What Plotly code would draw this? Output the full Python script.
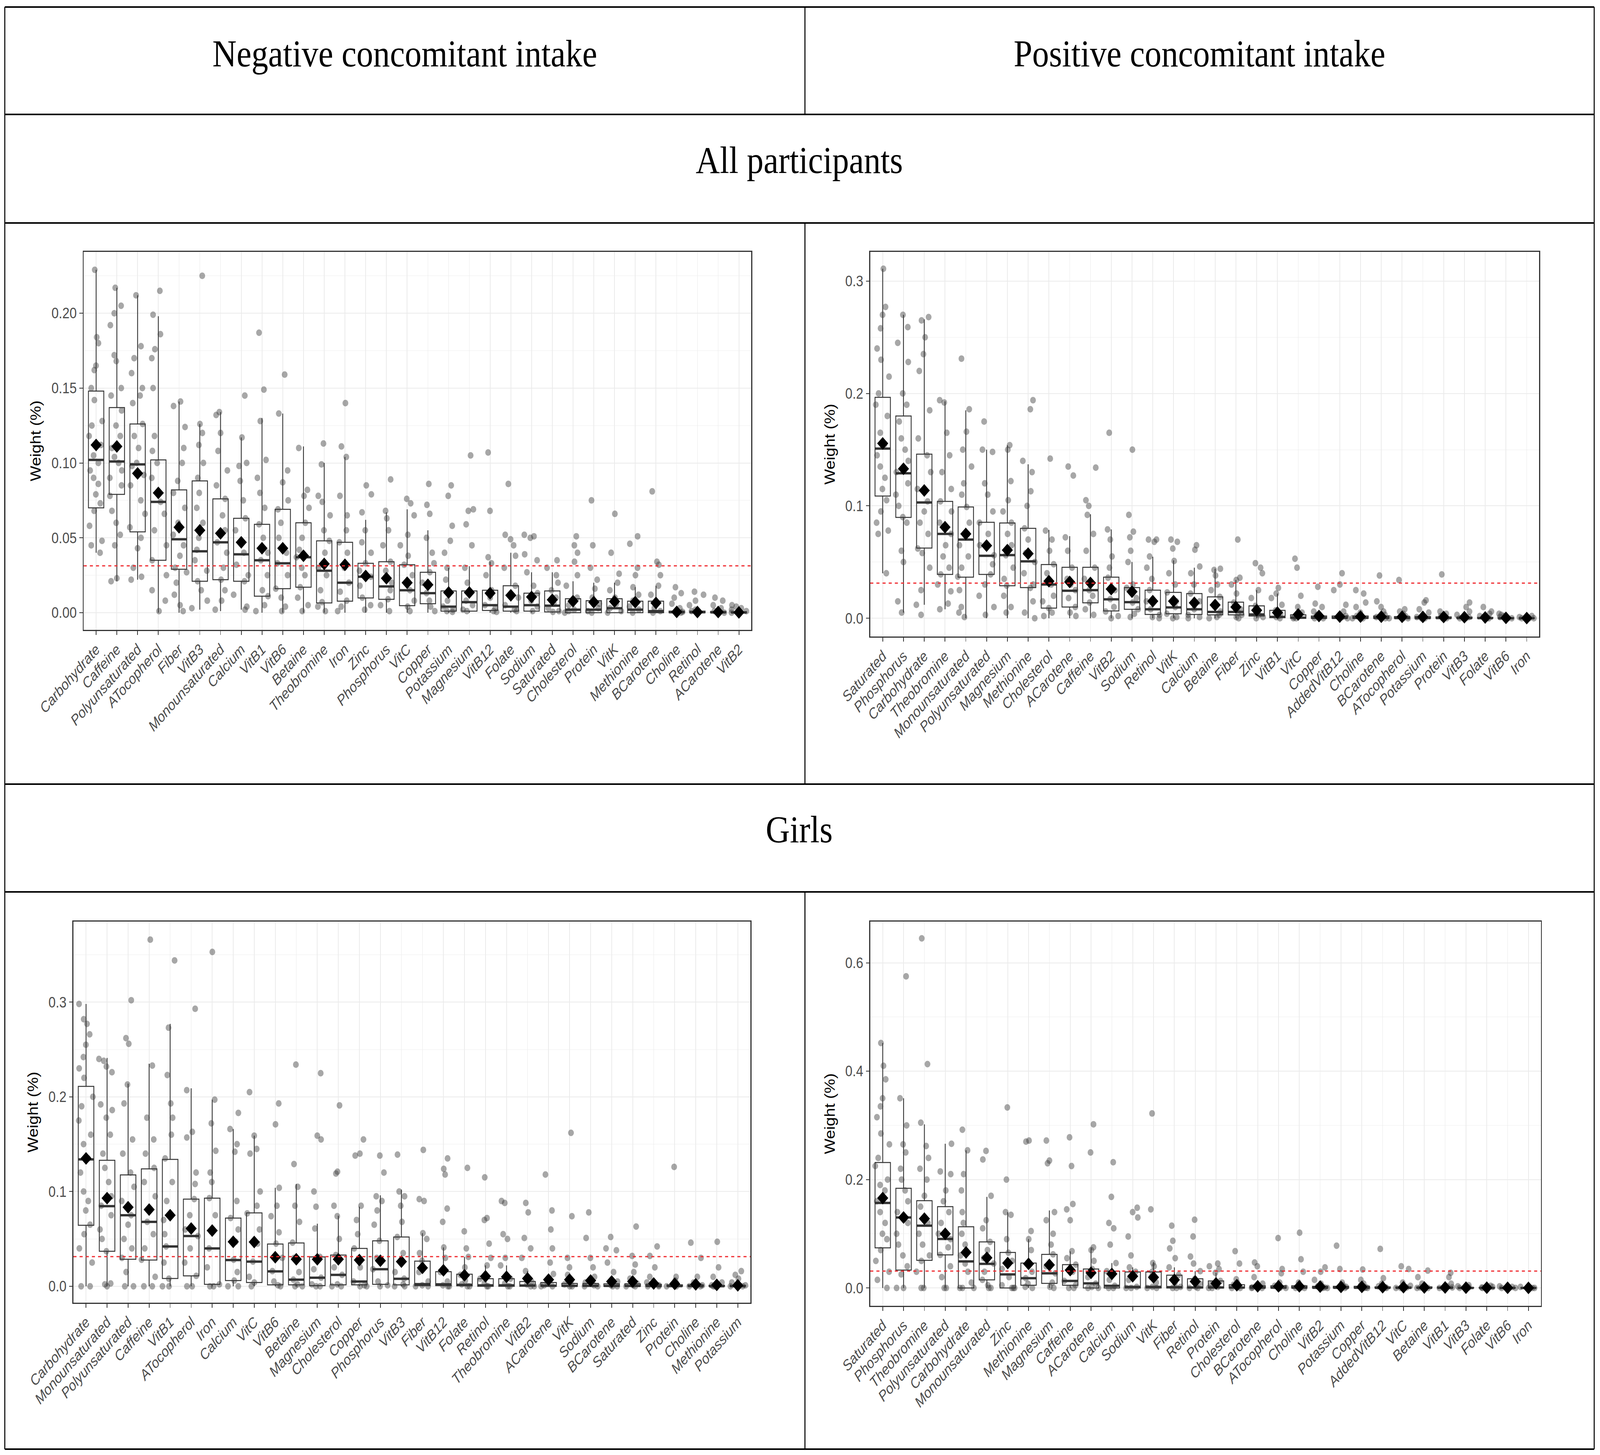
import plotly.graph_objects as go

# =============================================================================
# Data
# =============================================================================

threshold = 1 / 32  # uniform weight, 32 nutrients

# --- Negative concomitant intake, all participants ---------------------------
tl_cats = ["Carbohydrate", "Caffeine", "Polyunsaturated", "ATocopherol", "Fiber", "VitB3",
           "Monounsaturated", "Calcium", "VitB1", "VitB6", "Betaine", "Theobromine", "Iron",
           "Zinc", "Phosphorus", "VitC", "Copper", "Potassium", "Magnesium", "VitB12",
           "Folate", "Sodium", "Saturated", "Cholesterol", "Protein", "VitK", "Methionine",
           "BCarotene", "Choline", "Retinol", "ACarotene", "VitB2"]
tl_q1 = [0.070, 0.079, 0.054, 0.035, 0.029, 0.021, 0.022, 0.021, 0.011, 0.016, 0.017, 0.0065,
         0.0077, 0.0098, 0.0089, 0.0047, 0.006, 0.001, 0.001, 0.0015, 0.001, 0.001, 0.0005,
         0, 0, 0, 0, 0, 0, 0, 0, 0]
tl_med = [0.102, 0.101, 0.099, 0.074, 0.049, 0.041, 0.047, 0.039, 0.035, 0.033, 0.037, 0.028,
          0.020, 0.024, 0.0175, 0.015, 0.013, 0.004, 0.007, 0.005, 0.004, 0.005, 0.0047, 0.002,
          0.002, 0.003, 0.002, 0.001, 0.0003, 0.0003, 0.0002, 0.0001]
tl_q3 = [0.148, 0.137, 0.126, 0.102, 0.082, 0.088, 0.076, 0.063, 0.059, 0.069, 0.060, 0.048,
         0.047, 0.033, 0.034, 0.032, 0.027, 0.0145, 0.0145, 0.015, 0.018, 0.013, 0.0145, 0.0093,
         0.008, 0.0093, 0.0077, 0.0077, 0.001, 0.001, 0.0008, 0.0006]
tl_lo = [0.040, 0.021, 0.022, 0, 0, 0.002, 0.001, 0.002, 0, 0, 0, 0, 0, 0, 0, 0, 0, 0, 0, 0,
         0, 0, 0, 0, 0, 0, 0, 0, 0, 0, 0, 0]
tl_hi = [0.229, 0.217, 0.212, 0.198, 0.141, 0.126, 0.134, 0.117, 0.130, 0.133, 0.111, 0.100,
         0.104, 0.062, 0.067, 0.069, 0.055, 0.030, 0.031, 0.034, 0.040, 0.027, 0.027, 0.021,
         0.020, 0.020, 0.017, 0.018, 0.003, 0.003, 0.002, 0.0015]
tl_mean = [0.112, 0.111, 0.093, 0.080, 0.057, 0.055, 0.053, 0.047, 0.043, 0.043, 0.038, 0.0326,
           0.032, 0.0245, 0.023, 0.020, 0.0186, 0.0135, 0.0135, 0.013, 0.0116, 0.0105, 0.0086,
           0.0077, 0.007, 0.0075, 0.007, 0.0065, 0.0005, 0.0004, 0.0004, 0.0002]
tl_points = [
    [0.229, 0.184, 0.180, 0.165, 0.162, 0.150, 0.142, 0.128, 0.125, 0.118, 0.112, 0.105, 0.100,
     0.095, 0.090, 0.086, 0.079, 0.073, 0.068, 0.058, 0.048, 0.045, 0.040],
    [0.217, 0.205, 0.200, 0.192, 0.172, 0.168, 0.150, 0.145, 0.135, 0.125, 0.118, 0.110, 0.104,
     0.100, 0.095, 0.090, 0.085, 0.078, 0.068, 0.060, 0.052, 0.045, 0.023, 0.021],
    [0.212, 0.178, 0.170, 0.160, 0.150, 0.145, 0.140, 0.126, 0.118, 0.110, 0.100, 0.098, 0.092,
     0.085, 0.075, 0.066, 0.057, 0.050, 0.043, 0.030, 0.024, 0.022],
    [0.215, 0.199, 0.186, 0.176, 0.170, 0.150, 0.118, 0.108, 0.100, 0.090, 0.080, 0.074, 0.066,
     0.055, 0.045, 0.035, 0.025, 0.015, 0.008, 0.001],
    [0.141, 0.138, 0.124, 0.110, 0.100, 0.088, 0.080, 0.070, 0.060, 0.052, 0.045, 0.038, 0.030,
     0.027, 0.020, 0.012, 0.005, 0.001],
    [0.225, 0.126, 0.120, 0.112, 0.100, 0.090, 0.080, 0.070, 0.060, 0.050, 0.042, 0.035, 0.028,
     0.021, 0.015, 0.008, 0.003],
    [0.134, 0.132, 0.120, 0.108, 0.095, 0.085, 0.076, 0.065, 0.055, 0.047, 0.040, 0.030, 0.022,
     0.015, 0.008, 0.002],
    [0.145, 0.117, 0.100, 0.098, 0.088, 0.075, 0.063, 0.055, 0.047, 0.040, 0.032, 0.025, 0.021,
     0.012, 0.004, 0.002],
    [0.187, 0.149, 0.128, 0.102, 0.090, 0.080, 0.070, 0.059, 0.050, 0.040, 0.035, 0.025, 0.015,
     0.011, 0.005, 0.001],
    [0.159, 0.133, 0.095, 0.087, 0.075, 0.069, 0.060, 0.050, 0.040, 0.033, 0.025, 0.016, 0.010,
     0.004, 0.001],
    [0.110, 0.082, 0.078, 0.070, 0.060, 0.050, 0.042, 0.037, 0.030, 0.025, 0.017, 0.010, 0.005,
     0.001],
    [0.113, 0.099, 0.078, 0.074, 0.065, 0.055, 0.048, 0.040, 0.030, 0.025, 0.015, 0.007, 0.004,
     0.001],
    [0.140, 0.111, 0.104, 0.078, 0.065, 0.055, 0.047, 0.040, 0.030, 0.020, 0.014, 0.008, 0.004,
     0.001],
    [0.085, 0.079, 0.067, 0.055, 0.047, 0.040, 0.033, 0.028, 0.024, 0.018, 0.010, 0.005, 0.002],
    [0.089, 0.068, 0.063, 0.055, 0.045, 0.034, 0.028, 0.020, 0.015, 0.009, 0.005, 0.001],
    [0.076, 0.073, 0.065, 0.052, 0.045, 0.038, 0.032, 0.025, 0.015, 0.008, 0.004, 0.001],
    [0.086, 0.072, 0.066, 0.050, 0.040, 0.033, 0.027, 0.020, 0.013, 0.008, 0.004, 0.001],
    [0.085, 0.078, 0.058, 0.048, 0.040, 0.030, 0.022, 0.014, 0.008, 0.004, 0.002, 0.001, 0.0005],
    [0.105, 0.069, 0.068, 0.059, 0.045, 0.030, 0.020, 0.014, 0.008, 0.005, 0.002, 0.001],
    [0.107, 0.068, 0.037, 0.033, 0.025, 0.015, 0.010, 0.005, 0.003, 0.001, 0.0005],
    [0.086, 0.052, 0.049, 0.045, 0.038, 0.030, 0.018, 0.010, 0.005, 0.002, 0.001],
    [0.052, 0.051, 0.050, 0.039, 0.035, 0.027, 0.018, 0.013, 0.008, 0.004, 0.001],
    [0.035, 0.030, 0.025, 0.020, 0.015, 0.010, 0.006, 0.003, 0.001, 0.0005],
    [0.051, 0.045, 0.040, 0.034, 0.025, 0.018, 0.010, 0.005, 0.002, 0.001, 0.0],
    [0.075, 0.045, 0.030, 0.022, 0.016, 0.010, 0.006, 0.003, 0.001, 0.0],
    [0.066, 0.040, 0.026, 0.020, 0.015, 0.010, 0.006, 0.003, 0.001, 0.0],
    [0.051, 0.046, 0.030, 0.025, 0.017, 0.012, 0.008, 0.004, 0.002, 0.0],
    [0.081, 0.034, 0.032, 0.025, 0.018, 0.012, 0.007, 0.003, 0.001, 0.0],
    [0.017, 0.013, 0.010, 0.006, 0.003, 0.001, 0.0005, 0.0],
    [0.014, 0.012, 0.008, 0.005, 0.002, 0.001, 0.0],
    [0.010, 0.008, 0.005, 0.003, 0.001, 0.0],
    [0.005, 0.004, 0.003, 0.002, 0.001, 0.0],
]

# --- Positive concomitant intake, all participants ---------------------------
tr_cats = ["Saturated", "Phosphorus", "Carbohydrate", "Theobromine", "Monounsaturated",
           "Polyunsaturated", "Magnesium", "Methionine", "Cholesterol", "ACarotene", "Caffeine",
           "VitB2", "Sodium", "Retinol", "VitK", "Calcium", "Betaine", "Fiber", "Zinc", "VitB1",
           "VitC", "Copper", "AddedVitB12", "Choline", "BCarotene", "ATocopherol", "Potassium",
           "Protein", "VitB3", "Folate", "VitB6", "Iron"]
tr_q1 = [0.1087, 0.0897, 0.0624, 0.039, 0.0366, 0.039, 0.0289, 0.0273, 0.009, 0.010, 0.0137,
         0.0065, 0.008, 0.0034, 0.004, 0.0034, 0.003, 0.003, 0.002, 0.0005, 0, 0, 0, 0, 0, 0,
         0, 0, 0, 0, 0, 0]
tr_med = [0.151, 0.129, 0.103, 0.075, 0.070, 0.0556, 0.0562, 0.0506, 0.030, 0.0245, 0.025,
          0.0168, 0.0143, 0.008, 0.0096, 0.008, 0.0056, 0.0056, 0.0034, 0.0012, 0.0005, 0.0003,
          0.0003, 0.0003, 0.0003, 0.0002, 0.0002, 0.0002, 0.0001, 0.0001, 0.0, 0.0]
tr_q3 = [0.1966, 0.180, 0.146, 0.104, 0.099, 0.0854, 0.0848, 0.080, 0.0478, 0.0453, 0.0453,
         0.0366, 0.0273, 0.025, 0.023, 0.022, 0.019, 0.0143, 0.011, 0.007, 0.003, 0.002, 0.002,
         0.002, 0.002, 0.0015, 0.0015, 0.0012, 0.001, 0.0008, 0.0005, 0.0003]
tr_lo = [0.040, 0.005, 0.012, 0.008, 0, 0, 0, 0, 0, 0, 0, 0, 0, 0, 0, 0, 0, 0, 0, 0, 0, 0, 0,
         0, 0, 0, 0, 0, 0, 0, 0, 0]
tr_hi = [0.311, 0.270, 0.266, 0.193, 0.185, 0.150, 0.154, 0.137, 0.0786, 0.073, 0.0925, 0.079,
         0.050, 0.0547, 0.0515, 0.045, 0.044, 0.034, 0.025, 0.022, 0.008, 0.006, 0.005, 0.005,
         0.005, 0.004, 0.004, 0.003, 0.003, 0.002, 0.0012, 0.0008]
tr_mean = [0.1556, 0.133, 0.1137, 0.081, 0.075, 0.0646, 0.0606, 0.0575, 0.033, 0.0323, 0.0314,
           0.026, 0.0236, 0.0152, 0.0152, 0.0137, 0.0118, 0.010, 0.0071, 0.005, 0.0034, 0.002,
           0.0015, 0.0015, 0.0014, 0.0013, 0.0012, 0.0011, 0.0009, 0.0007, 0.0003, 0.0002]
tr_points = [
    [0.311, 0.277, 0.270, 0.258, 0.240, 0.230, 0.215, 0.200, 0.190, 0.180, 0.165, 0.155, 0.145,
     0.135, 0.125, 0.115, 0.105, 0.095, 0.085, 0.078, 0.075, 0.040],
    [0.270, 0.259, 0.245, 0.228, 0.200, 0.190, 0.175, 0.160, 0.150, 0.140, 0.130, 0.120, 0.110,
     0.100, 0.090, 0.085, 0.060, 0.050, 0.015, 0.005],
    [0.268, 0.265, 0.250, 0.235, 0.220, 0.185, 0.160, 0.145, 0.130, 0.115, 0.104, 0.095, 0.085,
     0.075, 0.062, 0.058, 0.045, 0.025, 0.012, 0.003],
    [0.194, 0.192, 0.165, 0.145, 0.130, 0.115, 0.104, 0.095, 0.085, 0.075, 0.065, 0.055, 0.045,
     0.039, 0.030, 0.024, 0.013, 0.008],
    [0.231, 0.186, 0.166, 0.150, 0.135, 0.120, 0.110, 0.099, 0.085, 0.075, 0.065, 0.055, 0.045,
     0.037, 0.025, 0.010, 0.005, 0.001],
    [0.175, 0.150, 0.148, 0.120, 0.110, 0.095, 0.085, 0.075, 0.065, 0.056, 0.048, 0.039, 0.030,
     0.020, 0.010, 0.003],
    [0.154, 0.150, 0.122, 0.105, 0.095, 0.085, 0.075, 0.065, 0.056, 0.045, 0.035, 0.029, 0.020,
     0.010, 0.005],
    [0.194, 0.186, 0.140, 0.130, 0.113, 0.100, 0.080, 0.070, 0.058, 0.050, 0.040, 0.030, 0.027,
     0.015, 0.005, 0.0],
    [0.142, 0.078, 0.070, 0.060, 0.048, 0.040, 0.033, 0.030, 0.020, 0.015, 0.009, 0.005, 0.002],
    [0.135, 0.127, 0.072, 0.060, 0.045, 0.035, 0.030, 0.025, 0.018, 0.010, 0.005, 0.002],
    [0.134, 0.105, 0.100, 0.092, 0.075, 0.060, 0.045, 0.035, 0.025, 0.020, 0.014, 0.008, 0.003],
    [0.165, 0.079, 0.070, 0.055, 0.045, 0.036, 0.025, 0.017, 0.010, 0.006, 0.002, 0.0],
    [0.150, 0.092, 0.077, 0.072, 0.060, 0.050, 0.030, 0.027, 0.018, 0.014, 0.008, 0.004, 0.001],
    [0.070, 0.070, 0.068, 0.055, 0.045, 0.035, 0.025, 0.015, 0.008, 0.003, 0.001, 0.0],
    [0.070, 0.068, 0.062, 0.051, 0.040, 0.030, 0.023, 0.015, 0.010, 0.004, 0.001, 0.0],
    [0.065, 0.061, 0.046, 0.040, 0.030, 0.022, 0.015, 0.008, 0.003, 0.001, 0.0],
    [0.044, 0.043, 0.038, 0.030, 0.025, 0.019, 0.012, 0.006, 0.003, 0.001, 0.0],
    [0.070, 0.036, 0.034, 0.030, 0.022, 0.014, 0.008, 0.005, 0.003, 0.001, 0.0],
    [0.049, 0.045, 0.040, 0.025, 0.018, 0.011, 0.006, 0.003, 0.001, 0.0],
    [0.027, 0.022, 0.018, 0.012, 0.007, 0.004, 0.002, 0.001, 0.0],
    [0.053, 0.045, 0.020, 0.010, 0.005, 0.003, 0.001, 0.0, 0.0],
    [0.028, 0.013, 0.010, 0.006, 0.003, 0.001, 0.0, 0.0],
    [0.040, 0.030, 0.025, 0.012, 0.006, 0.002, 0.001, 0.0],
    [0.025, 0.022, 0.014, 0.010, 0.005, 0.002, 0.0, 0.0],
    [0.038, 0.015, 0.010, 0.006, 0.003, 0.001, 0.0, 0.0],
    [0.034, 0.008, 0.006, 0.004, 0.002, 0.001, 0.0, 0.0],
    [0.016, 0.014, 0.008, 0.005, 0.002, 0.001, 0.0, 0.0],
    [0.039, 0.006, 0.004, 0.002, 0.001, 0.0, 0.0],
    [0.014, 0.010, 0.006, 0.003, 0.001, 0.0, 0.0],
    [0.010, 0.006, 0.004, 0.002, 0.001, 0.0, 0.0],
    [0.004, 0.003, 0.002, 0.001, 0.0, 0.0],
    [0.002, 0.001, 0.001, 0.0, 0.0, 0.0],
]

# --- Negative concomitant intake, girls --------------------------------------
bl_cats = ["Carbohydrate", "Monounsaturated", "Polyunsaturated", "Caffeine", "VitB1",
           "ATocopherol", "Iron", "Calcium", "VitC", "VitB6", "Betaine", "Magnesium",
           "Cholesterol", "Copper", "Phosphorus", "VitB3", "Fiber", "VitB12", "Folate",
           "Retinol", "Theobromine", "VitB2", "ACarotene", "VitK", "Sodium", "BCarotene",
           "Saturated", "Zinc", "Protein", "Choline", "Methionine", "Potassium"]
bl_q1 = [0.0644, 0.037, 0.0285, 0.0277, 0.0082, 0.011, 0.002, 0.006, 0.004, 0.0015, 0.0015,
         0.0007, 0.0015, 0.0015, 0.002, 0.0015, 0.0007, 0.0007, 0.0005, 0, 0, 0, 0, 0, 0, 0, 0,
         0, 0, 0, 0, 0]
bl_med = [0.134, 0.0846, 0.075, 0.068, 0.042, 0.053, 0.040, 0.0277, 0.026, 0.0157, 0.007,
          0.009, 0.012, 0.005, 0.018, 0.0079, 0.0022, 0.002, 0.0015, 0.001, 0.001, 0.0008,
          0.0006, 0.0005, 0.0005, 0.0004, 0.0004, 0.0003, 0.0002, 0.0002, 0.0001, 0.0001]
bl_q3 = [0.211, 0.133, 0.1176, 0.124, 0.134, 0.092, 0.093, 0.072, 0.0775, 0.0446, 0.0457,
         0.031, 0.033, 0.040, 0.048, 0.052, 0.0266, 0.0154, 0.0127, 0.008, 0.008, 0.005, 0.004,
         0.003, 0.003, 0.0025, 0.0025, 0.002, 0.0015, 0.0015, 0.001, 0.001]
bl_lo = [0] * 32
bl_hi = [0.298, 0.241, 0.214, 0.235, 0.277, 0.209, 0.197, 0.166, 0.159, 0.104, 0.108, 0.066,
         0.0745, 0.084, 0.096, 0.102, 0.056, 0.041, 0.031, 0.022, 0.022, 0.016, 0.013, 0.012,
         0.010, 0.008, 0.008, 0.006, 0.005, 0.005, 0.004, 0.004]
bl_mean = [0.135, 0.093, 0.0835, 0.081, 0.075, 0.061, 0.0588, 0.047, 0.0468, 0.0307, 0.0285,
           0.0285, 0.0285, 0.0277, 0.027, 0.026, 0.0195, 0.0169, 0.0116, 0.0105, 0.010, 0.0082,
           0.007, 0.007, 0.006, 0.005, 0.005, 0.003, 0.0025, 0.002, 0.0015, 0.001]
bl_points = [
    [0.298, 0.282, 0.277, 0.266, 0.255, 0.242, 0.230, 0.220, 0.200, 0.190, 0.175, 0.160, 0.150,
     0.135, 0.120, 0.100, 0.090, 0.080, 0.065, 0.055, 0.040, 0.025, 0.0, 0.0],
    [0.240, 0.238, 0.232, 0.226, 0.192, 0.186, 0.178, 0.160, 0.140, 0.125, 0.110, 0.095, 0.085,
     0.075, 0.060, 0.050, 0.037, 0.003, 0.002, 0.0],
    [0.302, 0.262, 0.256, 0.213, 0.193, 0.155, 0.140, 0.120, 0.105, 0.090, 0.075, 0.065, 0.050,
     0.040, 0.030, 0.015, 0.0, 0.0],
    [0.366, 0.233, 0.178, 0.155, 0.140, 0.125, 0.110, 0.095, 0.080, 0.068, 0.055, 0.040, 0.028,
     0.010, 0.0, 0.0],
    [0.344, 0.273, 0.223, 0.193, 0.178, 0.160, 0.135, 0.110, 0.090, 0.070, 0.055, 0.042, 0.025,
     0.008, 0.0, 0.0],
    [0.293, 0.207, 0.163, 0.157, 0.120, 0.108, 0.092, 0.075, 0.060, 0.053, 0.040, 0.025, 0.011,
     0.0, 0.0],
    [0.353, 0.197, 0.172, 0.143, 0.120, 0.110, 0.093, 0.075, 0.058, 0.040, 0.020, 0.002, 0.0, 0.0],
    [0.183, 0.166, 0.150, 0.142, 0.090, 0.072, 0.060, 0.047, 0.028, 0.015, 0.006, 0.0, 0.0],
    [0.205, 0.159, 0.145, 0.140, 0.100, 0.085, 0.077, 0.060, 0.045, 0.026, 0.010, 0.004, 0.0],
    [0.193, 0.171, 0.104, 0.085, 0.074, 0.057, 0.045, 0.030, 0.016, 0.005, 0.001, 0.0],
    [0.234, 0.129, 0.105, 0.085, 0.068, 0.046, 0.030, 0.015, 0.007, 0.002, 0.0, 0.0],
    [0.225, 0.159, 0.155, 0.100, 0.084, 0.061, 0.031, 0.018, 0.009, 0.002, 0.0, 0.0],
    [0.191, 0.121, 0.119, 0.085, 0.074, 0.050, 0.033, 0.020, 0.012, 0.002, 0.0, 0.0],
    [0.155, 0.140, 0.138, 0.085, 0.070, 0.055, 0.040, 0.020, 0.005, 0.001, 0.0, 0.0],
    [0.138, 0.120, 0.095, 0.090, 0.080, 0.065, 0.048, 0.030, 0.018, 0.005, 0.001, 0.0],
    [0.139, 0.100, 0.095, 0.085, 0.068, 0.052, 0.035, 0.015, 0.008, 0.002, 0.0, 0.0],
    [0.144, 0.092, 0.090, 0.056, 0.050, 0.035, 0.027, 0.015, 0.005, 0.001, 0.0, 0.0],
    [0.135, 0.124, 0.118, 0.082, 0.068, 0.041, 0.030, 0.015, 0.005, 0.001, 0.0, 0.0],
    [0.125, 0.058, 0.040, 0.031, 0.020, 0.012, 0.006, 0.002, 0.0, 0.0],
    [0.115, 0.072, 0.070, 0.045, 0.030, 0.022, 0.008, 0.003, 0.0, 0.0],
    [0.090, 0.088, 0.055, 0.050, 0.030, 0.022, 0.008, 0.003, 0.0, 0.0],
    [0.088, 0.078, 0.051, 0.040, 0.030, 0.016, 0.005, 0.002, 0.0, 0.0],
    [0.118, 0.080, 0.060, 0.040, 0.025, 0.013, 0.004, 0.001, 0.0, 0.0],
    [0.162, 0.074, 0.030, 0.020, 0.012, 0.005, 0.002, 0.0, 0.0],
    [0.078, 0.051, 0.030, 0.020, 0.010, 0.004, 0.001, 0.0, 0.0],
    [0.052, 0.040, 0.038, 0.025, 0.015, 0.005, 0.001, 0.0, 0.0],
    [0.063, 0.032, 0.023, 0.015, 0.008, 0.003, 0.001, 0.0, 0.0],
    [0.042, 0.032, 0.020, 0.010, 0.004, 0.001, 0.0, 0.0],
    [0.126, 0.010, 0.006, 0.003, 0.001, 0.0, 0.0],
    [0.046, 0.030, 0.010, 0.004, 0.001, 0.0, 0.0],
    [0.047, 0.020, 0.010, 0.004, 0.001, 0.0, 0.0],
    [0.016, 0.012, 0.008, 0.004, 0.001, 0.0, 0.0],
]

# --- Positive concomitant intake, girls --------------------------------------
br_cats = ["Saturated", "Phosphorus", "Theobromine", "Polyunsaturated", "Carbohydrate",
           "Monounsaturated", "Zinc", "Methionine", "Magnesium", "Caffeine", "ACarotene",
           "Calcium", "Sodium", "VitK", "Fiber", "Retinol", "Protein", "Cholesterol",
           "BCarotene", "ATocopherol", "Choline", "VitB2", "Potassium", "Copper", "AddedVitB12",
           "VitC", "Betaine", "VitB1", "VitB3", "Folate", "VitB6", "Iron"]
br_q1 = [0.074, 0.033, 0.051, 0.061, 0.0, 0.015, 0.0, 0.005, 0.0085, 0.005, 0, 0, 0, 0, 0, 0,
         0, 0, 0, 0, 0, 0, 0, 0, 0, 0, 0, 0, 0, 0, 0, 0]
br_med = [0.157, 0.130, 0.115, 0.0905, 0.049, 0.0446, 0.025, 0.018, 0.027, 0.013, 0.0085,
          0.004, 0.002, 0.002, 0.0015, 0.001, 0.001, 0.0008, 0.0006, 0.0005, 0.0005, 0.0004,
          0.0003, 0.0003, 0.0002, 0.0002, 0.0002, 0.0002, 0.0001, 0.0001, 0.0, 0.0]
br_q3 = [0.2315, 0.184, 0.161, 0.150, 0.113, 0.085, 0.0656, 0.046, 0.062, 0.043, 0.035, 0.031,
         0.0295, 0.0295, 0.0236, 0.017, 0.013, 0.006, 0.004, 0.004, 0.004, 0.003, 0.003, 0.003,
         0.002, 0.002, 0.002, 0.002, 0.001, 0.001, 0.0006, 0.0004]
br_lo = [0] * 32
br_hi = [0.452, 0.350, 0.302, 0.266, 0.254, 0.168, 0.140, 0.090, 0.143, 0.0675, 0.074, 0.046,
         0.038, 0.048, 0.038, 0.031, 0.028, 0.016, 0.010, 0.010, 0.010, 0.008, 0.007, 0.007,
         0.005, 0.005, 0.005, 0.004, 0.003, 0.002, 0.0015, 0.001]
br_mean = [0.166, 0.130, 0.128, 0.100, 0.0656, 0.0557, 0.046, 0.0446, 0.0426, 0.033, 0.028,
           0.026, 0.0216, 0.0197, 0.015, 0.012, 0.0085, 0.005, 0.003, 0.003, 0.003, 0.0025,
           0.002, 0.002, 0.0015, 0.0015, 0.001, 0.001, 0.0005, 0.0005, 0.0003, 0.0002]
br_points = [
    [0.452, 0.410, 0.385, 0.350, 0.335, 0.315, 0.285, 0.265, 0.240, 0.225, 0.200, 0.190, 0.180,
     0.160, 0.140, 0.120, 0.100, 0.090, 0.070, 0.050, 0.030, 0.015, 0.0],
    [0.575, 0.350, 0.300, 0.265, 0.250, 0.220, 0.200, 0.180, 0.160, 0.140, 0.120, 0.100, 0.080,
     0.060, 0.040, 0.025, 0.0, 0.0],
    [0.645, 0.413, 0.305, 0.262, 0.240, 0.220, 0.200, 0.170, 0.150, 0.120, 0.100, 0.080, 0.060,
     0.050, 0.030, 0.0, 0.0],
    [0.266, 0.215, 0.210, 0.180, 0.160, 0.140, 0.120, 0.100, 0.090, 0.075, 0.061, 0.040, 0.020,
     0.0, 0.0],
    [0.292, 0.254, 0.210, 0.180, 0.140, 0.120, 0.100, 0.080, 0.060, 0.045, 0.030, 0.010, 0.0,
     0.0, 0.0],
    [0.253, 0.237, 0.170, 0.125, 0.110, 0.085, 0.070, 0.055, 0.045, 0.030, 0.015, 0.005, 0.0, 0.0],
    [0.333, 0.200, 0.140, 0.135, 0.090, 0.065, 0.050, 0.035, 0.020, 0.005, 0.0, 0.0, 0.0],
    [0.272, 0.270, 0.105, 0.090, 0.070, 0.046, 0.030, 0.018, 0.008, 0.002, 0.0],
    [0.272, 0.235, 0.230, 0.140, 0.125, 0.100, 0.080, 0.062, 0.040, 0.027, 0.010, 0.002, 0.0],
    [0.278, 0.225, 0.155, 0.145, 0.125, 0.068, 0.055, 0.043, 0.030, 0.013, 0.005, 0.0, 0.0],
    [0.302, 0.250, 0.075, 0.070, 0.050, 0.035, 0.020, 0.008, 0.002, 0.0, 0.0],
    [0.232, 0.168, 0.120, 0.110, 0.080, 0.046, 0.031, 0.015, 0.004, 0.0, 0.0],
    [0.148, 0.140, 0.130, 0.095, 0.060, 0.038, 0.030, 0.015, 0.002, 0.0, 0.0],
    [0.322, 0.145, 0.046, 0.040, 0.030, 0.020, 0.010, 0.002, 0.0, 0.0],
    [0.115, 0.087, 0.073, 0.055, 0.038, 0.024, 0.010, 0.002, 0.0, 0.0],
    [0.126, 0.095, 0.058, 0.045, 0.031, 0.017, 0.008, 0.002, 0.0, 0.0],
    [0.045, 0.040, 0.035, 0.028, 0.013, 0.006, 0.002, 0.0, 0.0],
    [0.068, 0.045, 0.016, 0.010, 0.006, 0.002, 0.0, 0.0],
    [0.047, 0.040, 0.020, 0.008, 0.003, 0.001, 0.0, 0.0],
    [0.092, 0.035, 0.027, 0.010, 0.004, 0.001, 0.0, 0.0],
    [0.102, 0.053, 0.030, 0.010, 0.004, 0.001, 0.0, 0.0],
    [0.038, 0.030, 0.015, 0.008, 0.003, 0.001, 0.0, 0.0],
    [0.078, 0.035, 0.010, 0.005, 0.002, 0.0, 0.0],
    [0.034, 0.015, 0.008, 0.004, 0.001, 0.0, 0.0],
    [0.072, 0.018, 0.008, 0.003, 0.001, 0.0, 0.0],
    [0.040, 0.035, 0.010, 0.004, 0.001, 0.0, 0.0],
    [0.032, 0.020, 0.008, 0.003, 0.001, 0.0, 0.0],
    [0.028, 0.020, 0.008, 0.003, 0.001, 0.0, 0.0],
    [0.005, 0.003, 0.001, 0.0, 0.0],
    [0.004, 0.002, 0.001, 0.0, 0.0],
    [0.003, 0.002, 0.0, 0.0],
    [0.002, 0.001, 0.0, 0.0],
]

# table cell texts
col_headers = ["Negative concomitant intake", "Positive concomitant intake"]
row_headers = ["All participants", "Girls"]

# =============================================================================
# Figure
# =============================================================================

W, H = 4685, 3726
fig = go.Figure()

panels = [
    # cats, q1, med, q3, lo, hi, mean, points, x domain, y domain, y range, dtick, fmt
    (tl_cats, tl_q1, tl_med, tl_q3, tl_lo, tl_hi, tl_mean, tl_points,
     [0.0523, 0.4696], [0.5671, 0.8269], [-0.0115, 0.241], 0.05, ".2f"),
    (tr_cats, tr_q1, tr_med, tr_q3, tr_lo, tr_hi, tr_mean, tr_points,
     [0.5439, 0.9620], [0.5625, 0.8269], [-0.0163, 0.326], 0.1, ".1f"),
    (bl_cats, bl_q1, bl_med, bl_q3, bl_lo, bl_hi, bl_mean, bl_points,
     [0.0459, 0.4690], [0.1047, 0.3666], [-0.0173, 0.385], 0.1, ".1f"),
    (br_cats, br_q1, br_med, br_q3, br_lo, br_hi, br_mean, br_points,
     [0.5439, 0.9631], [0.1025, 0.3666], [-0.033, 0.676], 0.2, ".1f"),
]

tick_font = dict(family="Liberation Sans", size=38, color="#4D4D4D")

for i, (cats, q1, med, q3, lo, hi, mean, pts, xd, yd, yr, dt, fmt) in enumerate(panels):
    n = "" if i == 0 else str(i + 1)
    xa, ya = "x" + n, "y" + n

    # boxes from the summary statistics
    fig.add_trace(go.Box(
        x=cats, q1=q1, median=med, q3=q3, lowerfence=lo, upperfence=hi,
        boxpoints=False, width=0.74, whiskerwidth=0,
        fillcolor="rgba(0,0,0,0)", line=dict(color="#333333", width=2.5),
        xaxis=xa, yaxis=ya, hoverinfo="skip", showlegend=False))

    # thick median bar
    fig.add_trace(go.Scatter(
        x=cats, y=med, mode="markers",
        marker=dict(symbol="line-ew", size=32, line=dict(width=6, color="#333333")),
        xaxis=xa, yaxis=ya, hoverinfo="skip", showlegend=False))

    # jittered individual weights
    xs = [c for c, p in zip(cats, pts) for _ in p]
    ys = [v for p in pts for v in p]
    fig.add_trace(go.Box(
        x=xs, y=ys, boxpoints="all", jitter=1, pointpos=0, width=0.8,
        fillcolor="rgba(0,0,0,0)", line=dict(width=0),
        marker=dict(color="rgba(60,60,60,0.45)", size=17),
        xaxis=xa, yaxis=ya, hoverinfo="skip", showlegend=False))

    # mean diamonds
    fig.add_trace(go.Scatter(
        x=cats, y=mean, mode="markers",
        marker=dict(symbol="diamond", size=25, color="black"),
        xaxis=xa, yaxis=ya, hoverinfo="skip", showlegend=False))

    # uniform-weight threshold
    fig.add_shape(type="line", xref=xa + " domain", yref=ya, x0=0, x1=1,
                  y0=threshold, y1=threshold,
                  line=dict(color="#F0282D", width=3, dash="dash"))

    fig.update_layout({
        ("xaxis" + n): dict(
            domain=xd, anchor=ya, type="category", categoryorder="array",
            categoryarray=cats, range=[-0.6, len(cats) - 0.4], automargin=False,
            tickangle=-45, tickfont=dict(tick_font, style="italic"),
            ticks="outside", ticklen=10, tickwidth=2, tickcolor="#333333",
            showgrid=True, gridcolor="#EBEBEB", gridwidth=2,
            showline=True, mirror=True, linecolor="#333333", linewidth=2.5,
            zeroline=False),
        ("yaxis" + n): dict(
            domain=yd, anchor=xa, range=yr, dtick=dt, tick0=0, tickformat=fmt,
            automargin=False,
            tickfont=tick_font, ticks="outside", ticklen=10, tickwidth=2,
            tickcolor="#333333", showgrid=True, gridcolor="#EBEBEB", gridwidth=2,
            minor=dict(dtick=dt / 2, showgrid=True, gridcolor="#F6F6F6", gridwidth=1.5),
            showline=True, mirror=True, linecolor="#333333", linewidth=2.5,
            zeroline=False,
            title=dict(text="Weight (%)", standoff=18,
                       font=dict(family="Liberation Sans", size=42, color="black"))),
    })

# =============================================================================
# Table frame and cell texts
# =============================================================================

def px_x(v):
    return v / W


def px_y(v):
    return 1 - v / H


left, right, mid = 14, 4668, 2357
h_lines = [18, 293, 571, 2008, 2284, 3711]
for yv in h_lines:
    fig.add_shape(type="line", xref="paper", yref="paper",
                  x0=px_x(left), x1=px_x(right), y0=px_y(yv), y1=px_y(yv),
                  line=dict(color="black", width=4))
for xv in (left, right):
    fig.add_shape(type="line", xref="paper", yref="paper",
                  x0=px_x(xv), x1=px_x(xv), y0=px_y(18), y1=px_y(3711),
                  line=dict(color="black", width=3))
for y0, y1 in [(18, 293), (571, 2008), (2284, 3711)]:
    fig.add_shape(type="line", xref="paper", yref="paper",
                  x0=px_x(mid), x1=px_x(mid), y0=px_y(y0), y1=px_y(y1),
                  line=dict(color="black", width=3))

serif = dict(family="Liberation Serif", size=98, color="black")
for text, xc in zip(col_headers, [1185, 3512]):
    fig.add_annotation(text=text, x=px_x(xc), y=px_y(137), xref="paper", yref="paper",
                       showarrow=False, font=serif, xanchor="center", yanchor="middle")
for text, yc in zip(row_headers, [410, 2124]):
    fig.add_annotation(text=text, x=px_x(2340), y=px_y(yc), xref="paper", yref="paper",
                       showarrow=False, font=serif, xanchor="center", yanchor="middle")

fig.update_layout(
    template="none",
    width=W, height=H, autosize=False,
    margin=dict(l=0, r=0, t=0, b=0, pad=0, autoexpand=False),
    font=dict(family="Liberation Sans", color="#333333"),
    paper_bgcolor="white", plot_bgcolor="white", showlegend=False,
    boxmode="overlay",
)

# The browser viewport can be smaller (in CSS pixels) than the 4685x3726 page;
# scale the drawn figure so that it fills the viewport exactly.
fit_js = """
document.documentElement.style.overflow = 'hidden';
document.body.style.margin = '0px';
document.body.style.overflow = 'hidden';
var gd = document.getElementById('{plot_id}');
var sx = window.innerWidth / WIDTH, sy = window.innerHeight / HEIGHT;
if (Math.abs(sx - 1) > 0.002 || Math.abs(sy - 1) > 0.002) {
    gd.style.transformOrigin = '0 0';
    gd.style.transform = 'scale(' + sx + ',' + sy + ')';
}
""".replace("WIDTH", str(W)).replace("HEIGHT", str(H))

fig.write_html("out.html", post_script=fit_js, config={"displayModeBar": False})
